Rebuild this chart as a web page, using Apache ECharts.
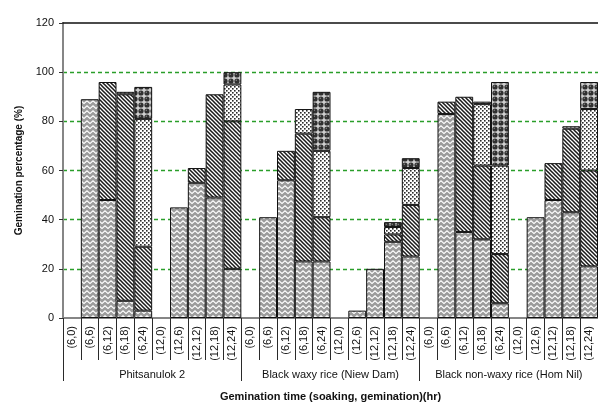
<!DOCTYPE html>
<html>
<head>
<meta charset="utf-8">
<script src="https://cdn.jsdelivr.net/npm/echarts@6/dist/echarts.min.js"></script>
<style>html,body{margin:0;padding:0;background:#fff}#c{width:598px;height:407px}</style>
</head>
<body>
<div id="c"></div>
<script>
// ---- data ----
const groups = ['Phitsanulok 2', 'Black waxy rice (Niew Dam)', 'Black non-waxy rice (Hom Nil)'];
const times = ['(6,0)', '(6,6)', '(6,12)', '(6,18)', '(6,24)', '(12,0)', '(12,6)', '(12,12)', '(12,18)', '(12,24)'];
const categories = groups.flatMap(() => times);
const yTicks = [0, 20, 40, 60, 80, 100, 120];

// stacked segments (bottom -> top)
const segZigzag  = [0, 89, 48, 7, 3, 0, 45, 55, 49, 20,   0, 41, 56, 23, 23, 0, 3, 20, 31, 25,   0, 83, 35, 32, 6, 0, 41, 48, 43, 21];
const segStripes = [0, 0, 48, 84, 26, 0, 0, 6, 42, 60,    0, 0, 12, 52, 18, 0, 0, 0, 3, 21,      0, 5, 55, 30, 20, 0, 0, 15, 34, 39];
const segDots    = [0, 0, 0, 1, 52, 0, 0, 0, 0, 15,       0, 0, 0, 10, 27, 0, 0, 0, 3, 15,       0, 0, 0, 25, 36, 0, 0, 0, 1, 25];
const segBigDots = [0, 0, 0, 0, 13, 0, 0, 0, 0, 5,        0, 0, 0, 0, 24, 0, 0, 0, 2, 4,         0, 0, 0, 1, 34, 0, 0, 0, 0, 11];

// ---- patterns ----
function makePattern(w, h, draw) {
  const c = document.createElement('canvas');
  c.width = w; c.height = h;
  const g = c.getContext('2d');
  draw(g, w, h);
  return { image: c, repeat: 'repeat' };
}
const patZig = makePattern(6, 5, (g, w, h) => {
  g.fillStyle = '#9c9c9c'; g.fillRect(0, 0, w, h);
  g.strokeStyle = '#ffffff'; g.lineWidth = 1.2; g.lineJoin = 'miter';
  g.beginPath(); g.moveTo(-1.5, 4.8); g.lineTo(3, 0.9); g.lineTo(7.5, 4.8); g.stroke();
});
const patStripe = makePattern(4, 4, (g, w, h) => {
  g.fillStyle = '#ffffff'; g.fillRect(0, 0, w, h);
  g.strokeStyle = '#1a1a1a'; g.lineWidth = 1.55;
  g.beginPath();
  g.moveTo(-1, -1); g.lineTo(5, 5);
  g.moveTo(-1, 3); g.lineTo(1, 5);
  g.moveTo(3, -1); g.lineTo(5, 1);
  g.stroke();
});
const patDots = makePattern(4, 4, (g, w, h) => {
  g.fillStyle = '#ffffff'; g.fillRect(0, 0, w, h);
  g.fillStyle = '#2a2a2a';
  g.fillRect(0, 0, 1.6, 1.6);
  g.fillRect(2, 2, 1.6, 1.6);
});
const patBig = makePattern(6, 6, (g, w, h) => {
  g.fillStyle = '#cfcfcf'; g.fillRect(0, 0, w, h);
  g.fillStyle = '#303030';
  g.beginPath(); g.arc(3, 3, 2.6, 0, Math.PI * 2); g.fill();
  g.fillStyle = '#8a8a8a';
  g.beginPath(); g.arc(2.3, 2.3, 0.7, 0, Math.PI * 2); g.fill();
});

const FONT = '"Liberation Sans", Arial, sans-serif';
const segs = [segZigzag, segStripes, segDots, segBigDots];
const pats = [patZig, patStripe, patDots, patBig];

const chart = echarts.init(document.getElementById('c'), null, { renderer: 'canvas' });
chart.setOption({
  animation: false,
  backgroundColor: '#ffffff',
  grid: { left: 63, top: 23, width: 542, height: 297, containLabel: false },
  xAxis: [
    {
      type: 'category', data: categories, position: 'bottom', boundaryGap: true,
      axisLine: { show: true, lineStyle: { color: '#868686', width: 2 } },
      axisTick: { show: true, interval: 0, length: 42, lineStyle: { color: '#2a2a2a', width: 1 } },
      axisLabel: { interval: 0, rotate: 90, margin: 8, fontSize: 11, color: '#111', fontFamily: FONT },
      splitLine: { show: false }
    },
    {
      type: 'category', data: groups, position: 'bottom', boundaryGap: true,
      axisLine: { show: false },
      axisTick: { show: true, interval: 0, length: 63, lineStyle: { color: '#2a2a2a', width: 1 } },
      axisLabel: { interval: 0, margin: 51, fontSize: 11, color: '#111', fontFamily: FONT },
      splitLine: { show: false },
      name: 'Gemination time (soaking, gemination)(hr)', nameLocation: 'middle', nameGap: 73,
      nameTextStyle: { fontWeight: 'bold', fontSize: 11, color: '#111', fontFamily: FONT }
    },
    {
      type: 'value', position: 'top', min: 0, max: 1,
      axisLine: { show: true, lineStyle: { color: '#111', width: 1.6 } },
      axisTick: { show: false }, axisLabel: { show: false }, splitLine: { show: false }
    }
  ],
  yAxis: {
    type: 'value', min: yTicks[0], max: yTicks[yTicks.length - 1], interval: yTicks[1] - yTicks[0],
    axisLine: { show: true, lineStyle: { color: '#868686', width: 2 } },
    axisTick: { show: true, length: 4, lineStyle: { color: '#333' } },
    axisLabel: { color: '#111', fontSize: 11, margin: 9, fontFamily: FONT },
    splitLine: { show: true, showMinLine: false, showMaxLine: false, lineStyle: { color: '#2a9e2a', type: [4, 3], width: 1.3 } },
    name: 'Gemination percentage (%)', nameLocation: 'middle', nameGap: 38,
    nameTextStyle: { fontWeight: 'bold', fontSize: 10, color: '#111', fontFamily: FONT }
  },
  series: segs.map((arr, i) => ({
    type: 'bar', stack: 'total', xAxisIndex: 0, yAxisIndex: 0,
    barCategoryGap: '0%', barGap: '0%',
    data: arr.map(v => (v === 0 ? null : v)),
    itemStyle: { color: pats[i], borderColor: '#111', borderWidth: 1 },
    emphasis: { disabled: true }
  }))
});
</script>
</body>
</html>
